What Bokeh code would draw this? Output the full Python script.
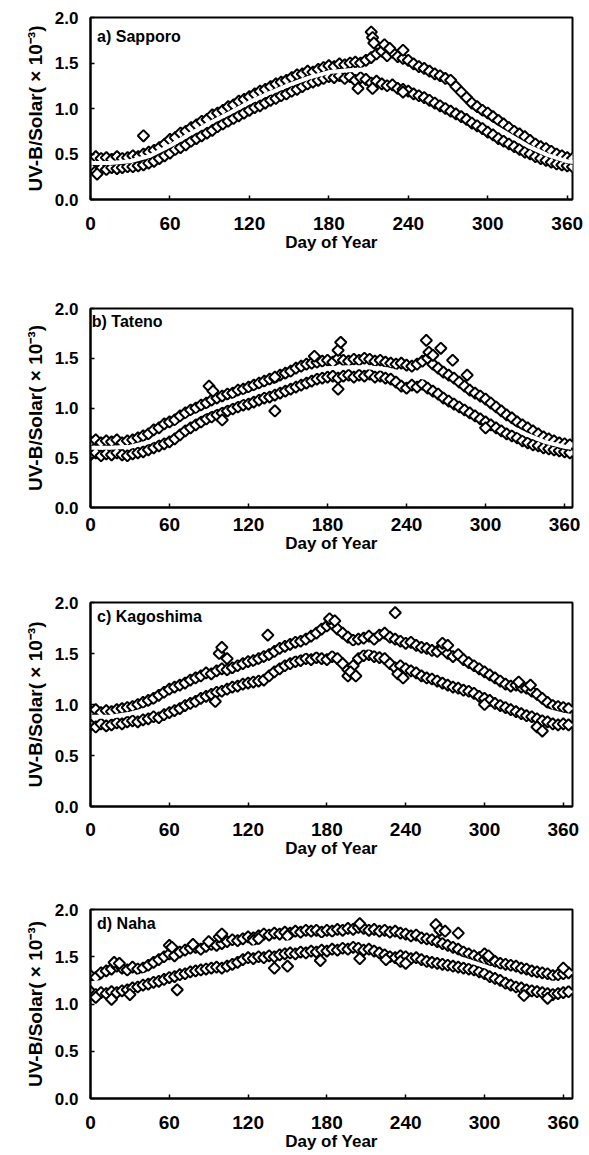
import math

from bokeh.embed import file_html
from bokeh.layouts import column
from bokeh.models import FixedTicker, Label, PrintfTickFormatter, Range1d
from bokeh.plotting import figure
from bokeh.resources import INLINE

# ---------------------------------------------------------------------------
# Data: UV-B / global solar ratio (x 10^-3) by day of year, four stations.
# Regular samples every 4 days, two groups of points per station, plus a few
# scattered extra points and the smooth seasonal fit curve.
# ---------------------------------------------------------------------------
DAYS = list(range(0, 365, 4))
FIT_DAYS = list(range(0, 361, 15)) + [365]

X_TICKS = [0, 60, 120, 180, 240, 300, 360]
Y_TICKS = [0.0, 0.5, 1.0, 1.5, 2.0]

# a) Sapporo
SAPPORO_UPPER = [
    0.44, 0.47, 0.45, 0.46, 0.44, 0.47, 0.45, 0.46, 0.48, 0.47,
    0.50, 0.52, 0.54, 0.57, 0.61, 0.66, 0.68, 0.73, 0.75, 0.79,
    0.82, 0.86, 0.88, 0.93, 0.95, 0.98, 1.02, 1.04, 1.08, 1.10,
    1.13, 1.16, 1.19, 1.21, 1.24, 1.27, 1.29, 1.31, 1.34, 1.37,
    1.38, 1.41, 1.40, 1.43, 1.45, 1.47, 1.46, 1.49, 1.48, 1.50,
    1.51, 1.50, 1.53, 1.56, 1.60, 1.63, 1.58, 1.62, 1.57, 1.55,
    1.53, 1.49, 1.46, 1.44, 1.41, 1.38, 1.36, 1.33, 1.31, 1.24,
    1.18, 1.12, 1.06, 1.02, 0.98, 0.95, 0.91, 0.87, 0.83, 0.79,
    0.75, 0.72, 0.69, 0.65, 0.61, 0.58, 0.56, 0.53, 0.50, 0.48,
    0.46, 0.45,
]
SAPPORO_LOWER = [
    0.35, 0.31, 0.34, 0.33, 0.35, 0.34, 0.35, 0.36, 0.36, 0.37,
    0.38, 0.40, 0.42, 0.45, 0.48, 0.51, 0.55, 0.57, 0.60, 0.64,
    0.67, 0.70, 0.73, 0.76, 0.80, 0.83, 0.86, 0.89, 0.92, 0.95,
    0.98, 1.01, 1.03, 1.06, 1.09, 1.11, 1.14, 1.16, 1.19, 1.21,
    1.24, 1.27, 1.29, 1.31, 1.33, 1.35, 1.34, 1.36, 1.33, 1.35,
    1.31, 1.34, 1.32, 1.28, 1.30, 1.27, 1.25, 1.26, 1.22, 1.21,
    1.19, 1.16, 1.14, 1.12, 1.09, 1.06, 1.03, 1.00, 0.97, 0.94,
    0.91, 0.88, 0.84, 0.81, 0.78, 0.74, 0.71, 0.67, 0.64, 0.61,
    0.58, 0.55, 0.52, 0.50, 0.47, 0.45, 0.43, 0.41, 0.39, 0.38,
    0.37, 0.36,
]
SAPPORO_EXTRA_DAY = [40, 212, 213, 214, 222, 226, 236, 5, 202, 213, 236]
SAPPORO_EXTRA_VAL = [0.70, 1.84, 1.78, 1.72, 1.70, 1.66, 1.64, 0.28, 1.22, 1.22, 1.18]
SAPPORO_FIT = [0.40, 0.40, 0.42, 0.48, 0.59, 0.72, 0.84, 0.95, 1.07, 1.17, 1.26, 1.34, 1.40,
               1.42, 1.43, 1.40, 1.33, 1.22, 1.10, 0.98, 0.85, 0.72, 0.59, 0.49, 0.42, 0.41]

# b) Tateno
TATENO_UPPER = [
    0.66, 0.68, 0.65, 0.67, 0.66, 0.68, 0.65, 0.67, 0.68, 0.70,
    0.72, 0.74, 0.78, 0.80, 0.84, 0.86, 0.88, 0.92, 0.95, 0.98,
    1.00, 1.03, 1.05, 1.08, 1.10, 1.12, 1.14, 1.15, 1.18, 1.19,
    1.21, 1.23, 1.25, 1.27, 1.29, 1.30, 1.33, 1.35, 1.37, 1.40,
    1.42, 1.44, 1.45, 1.46, 1.47, 1.48, 1.46, 1.50, 1.48, 1.47,
    1.49, 1.48, 1.50, 1.49, 1.47, 1.48, 1.46, 1.45, 1.44, 1.45,
    1.43, 1.42, 1.44, 1.47, 1.50, 1.44, 1.40, 1.36, 1.33, 1.30,
    1.26, 1.22, 1.18, 1.15, 1.12, 1.09, 1.05, 1.01, 0.97, 0.93,
    0.90, 0.86, 0.83, 0.80, 0.77, 0.74, 0.71, 0.69, 0.67, 0.65,
    0.64, 0.63,
]
TATENO_LOWER = [
    0.53, 0.55, 0.52, 0.54, 0.53, 0.55, 0.53, 0.52, 0.54, 0.55,
    0.56, 0.58, 0.60, 0.62, 0.64, 0.66, 0.69, 0.73, 0.77, 0.80,
    0.83, 0.86, 0.89, 0.91, 0.93, 0.95, 0.97, 0.99, 1.01, 1.03,
    1.04, 1.06, 1.08, 1.10, 1.11, 1.13, 1.15, 1.17, 1.19, 1.21,
    1.23, 1.25, 1.27, 1.29, 1.30, 1.31, 1.32, 1.30, 1.32, 1.33,
    1.31, 1.33, 1.32, 1.34, 1.31, 1.32, 1.30, 1.29, 1.26, 1.22,
    1.20, 1.23, 1.21, 1.24, 1.20, 1.17, 1.14, 1.10, 1.07, 1.04,
    1.01, 0.98, 0.95, 0.92, 0.89, 0.86, 0.83, 0.80, 0.77, 0.74,
    0.72, 0.70, 0.67, 0.65, 0.63, 0.62, 0.60, 0.59, 0.58, 0.57,
    0.56, 0.55,
]
TATENO_EXTRA_DAY = [90, 93, 140, 170, 188, 190, 255, 257, 260, 266, 275, 286, 100, 140, 188, 300]
TATENO_EXTRA_VAL = [1.22, 1.17, 1.31, 1.52, 1.58, 1.66, 1.68, 1.56, 1.53, 1.60, 1.48, 1.33,
                    0.88, 0.97, 1.19, 0.80]
TATENO_FIT = [0.60, 0.60, 0.61, 0.66, 0.76, 0.89, 0.98, 1.06, 1.13, 1.20, 1.27, 1.35, 1.40,
              1.41, 1.41, 1.39, 1.34, 1.30, 1.20, 1.10, 0.97, 0.84, 0.74, 0.66, 0.61, 0.60]

# c) Kagoshima
KAGOSHIMA_UPPER = [
    0.93, 0.95, 0.92, 0.94, 0.93, 0.95, 0.96, 0.97, 0.98, 1.00,
    1.02, 1.04, 1.06, 1.09, 1.12, 1.15, 1.17, 1.19, 1.21, 1.24,
    1.26, 1.28, 1.31, 1.30, 1.33, 1.35, 1.34, 1.36, 1.38, 1.40,
    1.42, 1.43, 1.45, 1.47, 1.49, 1.52, 1.55, 1.57, 1.59, 1.61,
    1.62, 1.64, 1.67, 1.70, 1.74, 1.77, 1.79, 1.74, 1.70, 1.66,
    1.63, 1.64, 1.65, 1.67, 1.64, 1.68, 1.70, 1.66, 1.64, 1.62,
    1.60, 1.61, 1.58, 1.56, 1.55, 1.53, 1.52, 1.55, 1.50, 1.47,
    1.49, 1.44, 1.41, 1.38, 1.35, 1.32, 1.29, 1.26, 1.23, 1.20,
    1.18, 1.19, 1.17, 1.16, 1.13, 1.10, 1.06, 1.02, 0.99, 0.98,
    0.97, 0.96,
]
KAGOSHIMA_LOWER = [
    0.80, 0.78, 0.81, 0.79, 0.80, 0.82, 0.81, 0.83, 0.84, 0.83,
    0.85, 0.86, 0.88, 0.87, 0.90, 0.92, 0.94, 0.96, 0.99, 1.01,
    1.03, 1.06, 1.08, 1.10, 1.12, 1.13, 1.15, 1.17, 1.18, 1.20,
    1.21, 1.22, 1.23, 1.24, 1.28, 1.32, 1.35, 1.38, 1.40, 1.42,
    1.43, 1.45, 1.44, 1.46, 1.45, 1.44, 1.47, 1.45, 1.40, 1.34,
    1.38, 1.45, 1.48, 1.49, 1.47, 1.46, 1.45, 1.40, 1.36, 1.38,
    1.35, 1.33, 1.31, 1.28, 1.26, 1.25, 1.23, 1.21, 1.19, 1.17,
    1.16, 1.14, 1.13, 1.11, 1.08, 1.06, 1.04, 1.01, 0.99, 0.97,
    0.95, 0.93, 0.91, 0.89, 0.88, 0.86, 0.84, 0.83, 0.81, 0.80,
    0.81, 0.80,
]
KAGOSHIMA_EXTRA_DAY = [98, 100, 104, 135, 182, 186, 232, 268, 272, 326, 335,
                       95, 196, 198, 202, 234, 238, 300, 340, 344]
KAGOSHIMA_EXTRA_VAL = [1.50, 1.56, 1.45, 1.68, 1.84, 1.82, 1.90, 1.60, 1.58, 1.22, 1.19,
                       1.03, 1.28, 1.32, 1.28, 1.30, 1.26, 1.00, 0.78, 0.74]
KAGOSHIMA_FIT = [0.88, 0.88, 0.91, 0.96, 1.04, 1.12, 1.20, 1.26, 1.33, 1.40, 1.48, 1.53, 1.55,
                 1.55, 1.56, 1.54, 1.49, 1.42, 1.34, 1.27, 1.18, 1.09, 1.02, 0.95, 0.90, 0.89]

# d) Naha
NAHA_UPPER = [
    1.30, 1.28, 1.33, 1.35, 1.37, 1.40, 1.38, 1.36, 1.39, 1.37,
    1.38, 1.41, 1.44, 1.47, 1.50, 1.53, 1.51, 1.55, 1.57, 1.59,
    1.60, 1.58, 1.61, 1.63, 1.62, 1.64, 1.66, 1.68, 1.67, 1.69,
    1.71, 1.70, 1.72, 1.74, 1.73, 1.75, 1.74, 1.76, 1.75, 1.77,
    1.76, 1.78, 1.77, 1.78, 1.76, 1.78, 1.77, 1.79, 1.78, 1.80,
    1.79, 1.81, 1.80, 1.78, 1.79, 1.77, 1.78, 1.76, 1.77, 1.75,
    1.74, 1.72, 1.73, 1.70, 1.69, 1.68, 1.66, 1.64, 1.62, 1.60,
    1.58, 1.55, 1.53, 1.51, 1.49, 1.47, 1.46, 1.45, 1.43, 1.42,
    1.41, 1.40, 1.38, 1.37, 1.35, 1.34, 1.33, 1.32, 1.30, 1.31,
    1.32, 1.33,
]
NAHA_LOWER = [
    1.13, 1.10, 1.12, 1.11, 1.13, 1.12, 1.14, 1.15, 1.17, 1.18,
    1.20, 1.21, 1.23, 1.24, 1.26, 1.28, 1.29, 1.31, 1.32, 1.34,
    1.35, 1.36, 1.37, 1.38, 1.39, 1.38, 1.40, 1.42, 1.44, 1.47,
    1.49, 1.48, 1.50, 1.49, 1.51, 1.50, 1.52, 1.53, 1.54, 1.53,
    1.55, 1.54, 1.56, 1.55, 1.57, 1.56, 1.58, 1.57, 1.59, 1.58,
    1.60, 1.59, 1.57, 1.58, 1.56, 1.54, 1.52, 1.50, 1.49, 1.51,
    1.50, 1.48, 1.49, 1.47, 1.45, 1.44, 1.43, 1.42, 1.41, 1.40,
    1.39, 1.38, 1.37, 1.36, 1.34, 1.32, 1.29, 1.27, 1.25, 1.22,
    1.20, 1.18, 1.17, 1.15, 1.14, 1.13, 1.12, 1.11, 1.10, 1.11,
    1.12, 1.13,
]
NAHA_EXTRA_DAY = [18, 22, 60, 62, 78, 90, 98, 100, 124, 128, 150, 205, 263, 266, 270, 280,
                  300, 303, 360, 4, 16, 30, 66, 140, 150, 175, 205, 225, 236, 240, 330, 348]
NAHA_EXTRA_VAL = [1.44, 1.43, 1.62, 1.60, 1.63, 1.66, 1.71, 1.74, 1.67, 1.69, 1.72, 1.85,
                  1.84, 1.78, 1.77, 1.75, 1.53, 1.51, 1.38, 1.07, 1.05, 1.10, 1.15, 1.38,
                  1.40, 1.46, 1.48, 1.47, 1.45, 1.43, 1.09, 1.06]
NAHA_FIT = [1.22, 1.24, 1.27, 1.32, 1.38, 1.44, 1.50, 1.54, 1.59, 1.62, 1.65, 1.67, 1.68,
            1.69, 1.69, 1.66, 1.62, 1.58, 1.53, 1.47, 1.40, 1.33, 1.27, 1.23, 1.22, 1.22]

FONT = "Liberation Sans"
Y_LABEL = "UV-B/Solar( × 10⁻³)"


def make_panel(title, upper, lower, extra_day, extra_val, fit, height, border,
               x_end, title_xy, x_standoff):
    left, right, top, bottom = border
    p = figure(
        width=589, height=height,
        x_range=Range1d(0, x_end), y_range=Range1d(0, 2.0),
        output_backend="svg", toolbar_location=None,
        min_border_left=left, min_border_right=right,
        min_border_top=top, min_border_bottom=bottom,
    )
    p.grid.visible = False
    p.outline_line_color = "black"
    p.outline_line_width = 2
    p.outline_line_alpha = 1.0

    for ax in (p.xaxis[0], p.yaxis[0]):
        ax.axis_line_width = 2
        ax.axis_line_color = "black"
        ax.major_tick_in = 4
        ax.major_tick_out = 0
        ax.minor_tick_line_color = None
        ax.major_tick_line_width = 1.5
        ax.major_label_text_font = FONT
        ax.major_label_text_font_style = "bold"
        ax.major_label_text_color = "black"
        ax.axis_label_text_font = FONT
        ax.axis_label_text_font_style = "bold"
        ax.axis_label_text_color = "black"

    p.xaxis.ticker = FixedTicker(ticks=X_TICKS)
    p.xaxis.major_label_text_font_size = "19px"
    p.xaxis.major_label_standoff = x_standoff
    p.xaxis.axis_label = "Day of Year"
    p.xaxis.axis_label_text_font_size = "17px"
    p.xaxis.axis_label_standoff = 0

    p.yaxis.ticker = FixedTicker(ticks=Y_TICKS)
    p.yaxis.formatter = PrintfTickFormatter(format="%.1f")
    p.yaxis.major_label_text_font_size = "17px"
    p.yaxis.major_label_standoff = 12
    p.yaxis.axis_label = Y_LABEL
    p.yaxis.axis_label_text_font_size = "19px"
    p.yaxis.axis_label_standoff = 6

    marker = dict(marker="square", angle=math.pi / 4, size=8, fill_color="white",
                  line_color="black", line_width=2)
    p.scatter(DAYS, lower, **marker)
    p.scatter(DAYS, upper, **marker)
    p.scatter(extra_day, extra_val, **marker)
    p.line(FIT_DAYS, fit, line_color="white", line_width=4)

    p.add_layout(Label(x=title_xy[0], y=title_xy[1], text=title, text_font=FONT,
                       text_font_size="16px", text_font_style="bold",
                       text_color="black", text_baseline="top", text_align="left"))
    return p


pa = make_panel("a) Sapporo", SAPPORO_UPPER, SAPPORO_LOWER, SAPPORO_EXTRA_DAY,
                SAPPORO_EXTRA_VAL, SAPPORO_FIT, 280, (90, 11, 17, 81), 364,
                (5, 1.89), 17)
pb = make_panel("b) Tateno", TATENO_UPPER, TATENO_LOWER, TATENO_EXTRA_DAY,
                TATENO_EXTRA_VAL, TATENO_FIT, 280, (86, 11, 28, 53), 366,
                (1, 1.95), 10)
pc = make_panel("c) Kagoshima", KAGOSHIMA_UPPER, KAGOSHIMA_LOWER, KAGOSHIMA_EXTRA_DAY,
                KAGOSHIMA_EXTRA_VAL, KAGOSHIMA_FIT, 300, (80, 12, 42, 53), 367,
                (5, 1.95), 16)
pd_ = make_panel("d) Naha", NAHA_UPPER, NAHA_LOWER, NAHA_EXTRA_DAY,
                 NAHA_EXTRA_VAL, NAHA_FIT, 295, (77, 17, 49, 57), 367,
                 (5, 1.94), 17)

layout = column(pa, pb, pc, pd_, spacing=0)

with open("out.html", "w") as f:
    f.write(file_html(layout, INLINE))
